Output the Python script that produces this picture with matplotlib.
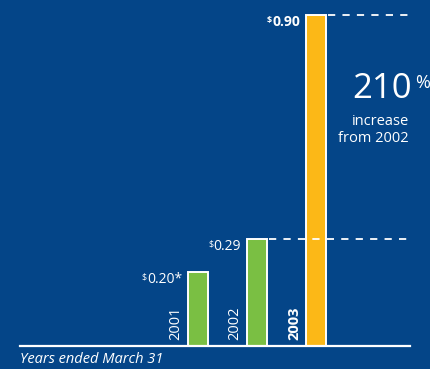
import matplotlib
matplotlib.use('Agg')
import matplotlib.pyplot as plt

years = ['2001', '2002', '2003']
values = [0.20, 0.29, 0.90]
value_labels = ['0.20*', '0.29', '0.90']
bar_colors = ['#7abf43', '#7abf43', '#fcb817']
bold = [False, False, True]

BG = '#044588'
plt.rcParams['font.family'] = ['Open Sans', 'DejaVu Sans']

fig = plt.figure(figsize=(4.31, 3.69), dpi=100, facecolor=BG)
ax = fig.add_axes([0, 0, 1, 1], facecolor=BG)
ax.set_xlim(-3.356, 3.949)
ax.set_ylim(-0.0625, 0.9407)
ax.axis('off')

x = range(len(years))
ax.bar(x, values, width=0.34, color=bar_colors, edgecolor='white', linewidth=1.4, zorder=3)

# baseline
ax.plot([-3.02, 3.59], [0, 0], color='white', lw=1.6, zorder=4)

for i, (yr, v, lab, b) in enumerate(zip(years, values, value_labels, bold)):
    w = 'bold' if b else 'normal'
    # year label rotated beside bar
    ax.annotate(yr, xy=(i - 0.17, 0), xytext=(-5, 6), textcoords='offset pixels',
                rotation=90, ha='right', va='bottom', color='white', fontsize=10.5, fontweight=w)
    # value label with superscript dollar sign
    t = ax.annotate(lab, xy=(i - 0.17, v), xytext=(-6, -7), textcoords='offset pixels',
                    ha='right', va='center', color='white', fontsize=10, fontweight=w)
    ax.annotate('$', xy=(0, 0.95), xycoords=t, ha='right', va='top',
                color='white', fontsize=6.5, fontweight=w)

# dashed reference lines
ax.hlines(values[2], 2.2, 3.59, colors='white', linestyles=(0, (4, 4)), lw=1.3, zorder=2)
ax.hlines(values[1], 1.2, 3.59, colors='white', linestyles=(0, (4, 4)), lw=1.3, zorder=4)

pct = ax.text(3.62, 0.698, '210', color='white', fontsize=25, ha='right', va='center')
ax.annotate('%', xy=(1.06, 0.95), xycoords=pct, ha='left', va='top', color='white', fontsize=13)
ax.text(3.57, 0.632, 'increase\nfrom 2002', color='white', fontsize=10.5, ha='right', va='top',
        multialignment='right', linespacing=1.25)

ax.text(-3.02, -0.036, 'Years ended March 31', color='white', fontsize=10.5, style='italic',
        ha='left', va='center')

plt.savefig('out.png', dpi=100, facecolor=BG)
